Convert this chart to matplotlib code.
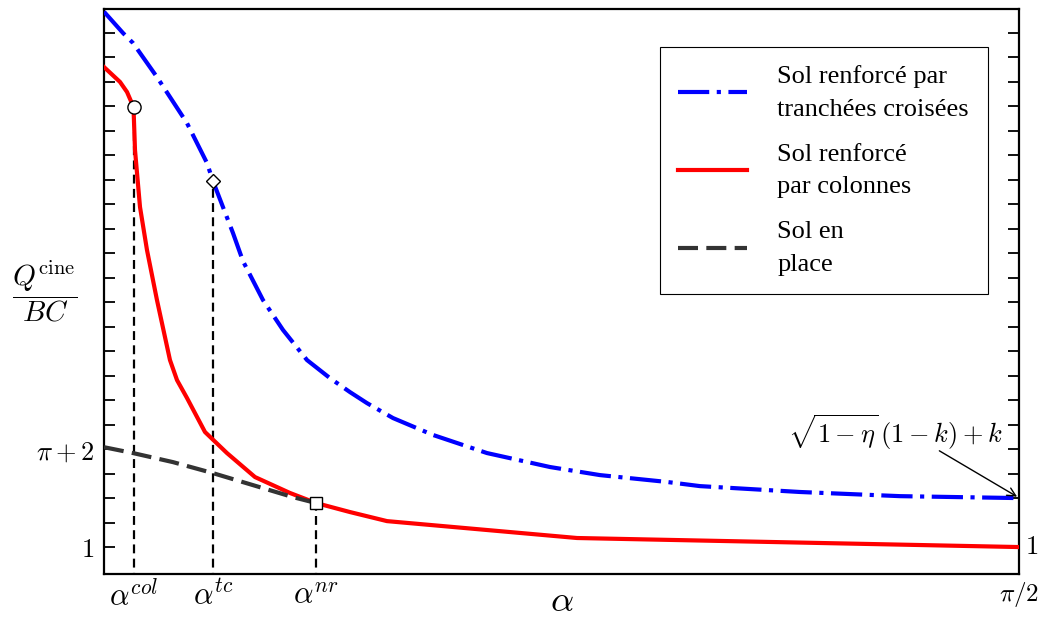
import numpy as np
import matplotlib
matplotlib.use("Agg")
import matplotlib.pyplot as plt

plt.rcParams['mathtext.fontset'] = 'cm'

# --- curves (alpha in rad, Q/BC in tick units) ---
alpha_tc_curve = [0.0, 0.0326, 0.0498, 0.0909, 0.1424, 0.1767, 0.1870, 0.2213, 0.2385,
                  0.2728, 0.3071, 0.3483, 0.3878, 0.4221, 0.4513, 0.4959, 0.5645, 0.6572,
                  0.7652, 0.8510, 0.9660, 1.0226, 1.1942, 1.3658, 1.5708]
q_tc = [22.87, 22.00, 21.59, 20.20, 18.32, 16.69, 15.95, 13.83, 12.68,
        11.09, 9.87, 8.64, 7.90, 7.33, 6.88, 6.27, 5.58, 4.84,
        4.27, 3.94, 3.66, 3.49, 3.25, 3.08, 3.00]

alpha_col_curve = [0.0, 0.0275, 0.0395, 0.0506, 0.0532, 0.0618, 0.0738, 0.0909, 0.1132, 0.1253,
                   0.1424, 0.1733, 0.2110, 0.2591, 0.3191, 0.3638, 0.4221, 0.4856, 0.8116, 1.5708]
q_col = [20.61, 20.00, 19.59, 18.98, 17.22, 14.89, 13.13, 11.09, 8.64, 7.82,
         7.09, 5.70, 4.84, 3.86, 3.21, 2.80, 2.43, 2.06, 1.37, 1.00]

alpha_nat = [0.0, 0.0498, 0.1184, 0.1870, 0.2557, 0.3243, 0.3638]
q_nat = [5.08, 4.84, 4.47, 4.02, 3.53, 3.04, 2.80]

# characteristic angles and the marker values
alpha_col, q_at_col = 0.0515, 18.98
alpha_tc, q_at_tc = 0.1870, 15.95
alpha_nr, q_at_nr = 0.3638, 2.80

y_ticks = np.arange(1, 23)
y_labelled = [1, 5]
y_labels = [r'$1$', r'$\pi + 2$']

fig = plt.figure(figsize=(10.42, 6.18), dpi=100)
ax = fig.add_axes([0.0998, 0.0720, 0.9784 - 0.0998, 0.9854 - 0.0720])

l_tc, = ax.plot(alpha_tc_curve, q_tc, color='#0000ff', lw=3.0, dashes=(7.5, 1.8, 1.0, 1.8),
                label='Sol renforcé par\ntranchées croisées', zorder=3)
l_col, = ax.plot(alpha_col_curve, q_col, color='#ff0000', lw=3.0,
                 label='Sol renforcé\npar colonnes', zorder=3)
l_nat, = ax.plot(alpha_nat, q_nat, color='#333333', lw=3.0, dashes=(4.8, 2.0),
                 label='Sol en\nplace', zorder=3)

# vertical guides down to the x axis
for a, q in [(alpha_col, q_at_col), (alpha_tc, q_at_tc), (alpha_nr, q_at_nr)]:
    ax.plot([a, a], [-1, q], color='black', lw=1.6, dashes=(4, 2.4), zorder=2)

ax.plot([alpha_col], [q_at_col], 'o', ms=9.5, mfc='white', mec='black', mew=1.0, zorder=5)
ax.plot([alpha_tc], [q_at_tc], 'D', ms=7.5, mfc='white', mec='black', mew=1.0, zorder=5)
ax.plot([alpha_nr], [q_at_nr], 's', ms=8.5, mfc='white', mec='black', mew=1.0, zorder=5)

ax.set_xlim(0, np.pi / 2)
ax.set_ylim(-0.08, 22.98)

for s in ax.spines.values():
    s.set_linewidth(1.6)

ax.set_yticks(y_ticks)
ax.set_yticklabels([y_labels[y_labelled.index(t)] if t in y_labelled else '' for t in y_ticks])
ax.tick_params(axis='y', direction='in', length=8, width=1.3, left=True, right=True,
               labelsize=19, pad=7)

ax.set_xticks([alpha_col, alpha_tc, alpha_nr, np.pi / 2])
ax.set_xticklabels([r'$\alpha^{col}$', r'$\alpha^{tc}$', r'$\alpha^{nr}$', r'$\pi/2$'])
ax.tick_params(axis='x', length=0, pad=5)
for lab, size in zip(ax.get_xticklabels(), [22, 22, 22, 18]):
    lab.set_fontsize(size)

ax.text(1.006, 1.0, r'$1$', transform=ax.get_yaxis_transform(), fontsize=19,
        ha='left', va='center')

# axis titles
fig.text(562 / 1042, 1 - 601 / 618, r'$\alpha$', fontsize=26, ha='center', va='center')
fig.text(44.5 / 1042, 1 - 291 / 618, r'$\dfrac{Q^{\mathrm{cine}}}{BC}$', fontsize=21,
         ha='center', va='center')

# limit value annotation
ax.text(1.357, 5.70, r'$\sqrt{1-\eta}\,(1-k)+k$', fontsize=19, ha='center', va='center')
ax.annotate('', xy=(np.pi / 2, 3.0), xytext=(1.4292, 4.99),
            arrowprops=dict(arrowstyle='->', color='black', lw=1.0, mutation_scale=15),
            annotation_clip=False)

leg = ax.legend(handles=[l_tc, l_col, l_nat], loc='upper left',
                bbox_to_anchor=(660 / 1042, 1 - 47 / 618), bbox_transform=fig.transFigure,
                borderaxespad=0, fancybox=False, framealpha=1, edgecolor='black',
                prop={'family': 'Liberation Serif', 'size': 19},
                handlelength=2.6, handletextpad=1.15, labelspacing=0.88, borderpad=0.7)
leg.get_frame().set_linewidth(0.8)
for t in leg.get_texts():
    t.set_linespacing(1.6)

fig.savefig('out.png', dpi=100)
